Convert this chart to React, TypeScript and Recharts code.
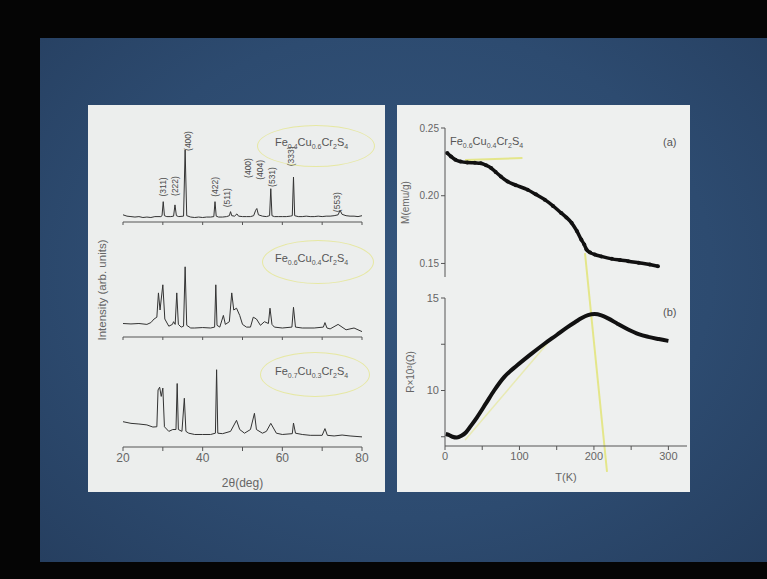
import React from "react";
import { ComposedChart, LineChart, Line, Scatter, XAxis, YAxis, ReferenceLine } from "recharts";

// XRD patterns, 2θ (deg) vs intensity (arb. units, 0-100 per panel)
const thetaA = [20, 21, 22, 23, 24, 25, 26, 27, 28, 29.5, 29.8, 30.1, 30.4, 31, 32, 32.7, 33.05, 33.4, 34, 35.2, 35.6, 36, 37, 38, 39, 40, 41, 42, 42.8, 43.1, 43.4, 44, 45, 46, 46.7, 47, 47.3, 48, 48.6, 49, 50, 51, 52, 52.8, 53.3, 53.6, 54, 55, 56, 56.8, 57.1, 57.4, 58, 59, 60, 61, 62, 62.5, 62.8, 63.1, 64, 65, 66, 67, 68, 69, 70, 71, 72, 73, 74, 74.5, 75, 76, 77, 78, 79, 80];
const intA = [8, 6.5, 6, 5.5, 6, 5, 5.5, 5, 6, 6, 7, 22.6, 7, 6, 6, 6.5, 19, 7, 6, 6.5, 80, 7, 5.5, 5, 5.5, 5, 5.5, 5.5, 6, 22.6, 6.5, 5.5, 5.5, 6, 7, 11.5, 7, 6.5, 9, 6.5, 6, 6, 6, 7, 13, 15, 8, 6.5, 6, 7, 37, 7, 6, 6, 6, 6, 6.5, 7, 50, 7, 6, 6, 6.5, 6, 6, 6.5, 6, 6.5, 6.5, 7, 8, 13, 8.5, 7, 6.5, 6.5, 6, 7];

const thetaB = [20, 22, 24, 26, 27, 27.8, 28.5, 28.9, 29.3, 30, 30.5, 31.5, 32.4, 32.7, 33.1, 33.5, 33.9, 34.6, 35.2, 35.6, 36, 37, 38, 40, 42, 43, 43.3, 43.6, 44.3, 45.2, 45.7, 46.7, 47.3, 47.8, 48.5, 49.3, 50, 51, 52, 52.7, 53.5, 54.5, 55.5, 56.5, 56.9, 57.4, 58, 60, 62.4, 62.8, 63.3, 65, 68, 70.3, 70.7, 71.2, 72, 74, 76, 78, 80];
const intB = [15, 14.5, 15, 14, 16, 20, 22, 49, 30, 58, 20, 12, 14, 17, 14, 49, 14, 11, 12, 78, 13, 10, 10, 10.5, 10, 11, 58, 13, 11, 24, 14, 17, 49, 30, 32, 24, 14, 11, 11, 22, 20, 13, 17, 15, 32, 14, 11, 10, 11, 33, 11, 10, 10, 11, 16, 10, 9, 14, 8, 10, 6];

const thetaC = [20, 22, 24, 26, 27.5, 28.5, 28.8, 29.2, 29.6, 30, 30.4, 31.5, 32.5, 33.3, 33.6, 33.9, 34.8, 35.4, 35.8, 36.5, 38, 40, 42, 43.2, 43.5, 43.8, 45, 47, 48.5, 49.3, 50.5, 52, 53, 53.5, 55, 56, 57.1, 58.5, 60, 62.5, 62.8, 63.3, 65, 67, 70, 70.7, 71.3, 73, 75, 77, 80];
const intC = [27.5, 25.7, 25, 24, 21.7, 22, 62, 65, 55, 64, 22, 17, 19, 19, 69, 19, 17, 53, 17, 15, 13.6, 13.6, 13.6, 15, 84, 15, 14.5, 17, 29, 19, 15, 19, 36.6, 19, 15, 17, 25.7, 15, 13.6, 14.5, 26, 15, 13.6, 12.7, 12.7, 20, 12.7, 12, 13, 12, 11];

const peakNames = ["(311)", "(222)", "(400)", "(422)", "(511)", "(400)", "(404)", "(531)", "(333)", "(553)"];
const peakTheta = [30.1, 33.05, 36.4, 43.1, 46, 51.5, 54.4, 57.3, 62.3, 73.8];
const peakLabelHeight = [39, 40, 90, 39, 27, 60, 58, 50, 73, 22];

// magnetisation (a) and resistance (b) vs temperature
const mTemp = [3, 8, 14, 21, 30, 40, 48, 55, 62, 68, 75, 84, 95, 111, 122, 134, 145, 156, 163, 170, 177, 183, 187, 190, 195, 201, 210, 224, 235, 246, 260, 275, 286];
const mValue = [0.2316, 0.229, 0.2265, 0.2252, 0.2245, 0.2243, 0.224, 0.2225, 0.2204, 0.2175, 0.2142, 0.2105, 0.2078, 0.2044, 0.201, 0.1971, 0.1925, 0.1873, 0.184, 0.18, 0.174, 0.1676, 0.164, 0.1603, 0.158, 0.1566, 0.1552, 0.1534, 0.1525, 0.1517, 0.1505, 0.1492, 0.148];

const rTemp = [1, 5, 10, 16, 22, 28, 35, 43, 55, 66, 80, 97, 115, 134, 150, 165, 175, 183, 192, 201, 210, 219, 232, 246, 260, 273, 287, 300];
const rValue = [7.65, 7.6, 7.5, 7.46, 7.55, 7.73, 8.1, 8.55, 9.3, 10.0, 10.75, 11.36, 11.95, 12.54, 13.0, 13.44, 13.7, 13.9, 14.07, 14.13, 14.06, 13.9, 13.6, 13.3, 13.05, 12.9, 12.78, 12.68];

const FONT = "'Liberation Sans', Arial, sans-serif";
const INK = "#4a4a4a";
const YELLOW = "#e4e68a";

const zip = (t: number[], v: number[]) => t.map((x, i) => ({ t: x, v: v[i] }));

function PeakLabel(props: any) {
  const { cx, cy, payload } = props;
  return (
    <text x={cx} y={cy} transform={`rotate(-90 ${cx} ${cy})`} textAnchor="middle" dominantBaseline="central"
      fontSize={8.5} fill={INK} fontFamily={FONT}>
      {payload.name}
    </text>
  );
}

function Formula({ fe, cu, left, top }: { fe: string; cu: string; left: number; top: number }) {
  const sub = { fontSize: 7 };
  return (
    <div style={{ position: "absolute", left, top, fontFamily: FONT, fontSize: 11, color: "#555", lineHeight: "12px" }}>
      Fe<sub style={sub}>{fe}</sub>Cu<sub style={sub}>{cu}</sub>Cr<sub style={sub}>2</sub>S<sub style={sub}>4</sub>
    </div>
  );
}

function Ellipse({ left, top, width, height }: { left: number; top: number; width: number; height: number }) {
  return (
    <div style={{ position: "absolute", left, top, width, height, borderRadius: "50%", border: `1.5px solid ${YELLOW}`, opacity: 0.75 }} />
  );
}

interface XrdProps {
  theta: number[];
  intensity: number[];
  top: number;
  height: number;
  mt: number;
  bottomAxis?: boolean;
  framed?: boolean;
  peaks?: boolean;
}

function XrdPanel({ theta, intensity, top, height, mt, bottomAxis, framed, peaks }: XrdProps) {
  const rows = zip(theta, intensity);
  const labels = peakNames.map((name, i) => ({ t: peakTheta[i], lab: peakLabelHeight[i], name }));
  return (
    <div style={{ position: "absolute", left: 88, top, width: 297, height }}>
      <ComposedChart width={297} height={height} data={rows} margin={{ top: mt, right: 23, bottom: 0, left: 35 }}>
        <XAxis dataKey="t" type="number" domain={[20, 80]} ticks={[20, 30, 40, 50, 60, 70, 80]}
          tickFormatter={(v: number) => (bottomAxis && v % 20 === 0 ? String(v) : "")}
          height={bottomAxis ? 48 : height - mt - 90} tickSize={bottomAxis ? 4 : 3} stroke="#555"
          tick={{ fontSize: 12, fill: "#666", fontFamily: FONT }}
          label={bottomAxis ? { value: "2θ(deg)", position: "insideBottom", offset: 8, fontSize: 12, fill: "#666", fontFamily: FONT } : undefined} />
        {framed && <XAxis xAxisId="top" orientation="top" type="number" domain={[20, 80]} height={0} tick={false} stroke="#555" />}
        <YAxis type="number" domain={[0, 100]} ticks={[0, 12.5, 25, 37.5, 50, 62.5, 75, 87.5, 100]} width={0} mirror
          tickFormatter={() => ""} tickSize={3} stroke="#555" />
        <YAxis yAxisId="r" orientation="right" type="number" domain={[0, 100]} width={0} tick={false} stroke="#555" />
        <Line dataKey="v" type="linear" stroke="#333" strokeWidth={1} dot={false} isAnimationActive={false} />
        {peaks && <Scatter data={labels} dataKey="lab" shape={PeakLabel} isAnimationActive={false} />}
      </ComposedChart>
    </div>
  );
}

export default function App() {
  const mRows = zip(mTemp, mValue);
  const rRows = zip(rTemp, rValue);
  const axisTick = { fontSize: 11, fill: "#666", fontFamily: FONT };
  return (
    <div style={{ position: "absolute", left: 0, top: 0, width: 767, height: 579, background: "#050505", overflow: "hidden" }}>
      <style>{`.recharts-surface{overflow:visible}`}</style>
      <div style={{ position: "absolute", left: 40, top: 38, width: 727, height: 524, background: "radial-gradient(ellipse at 50% 45%, #34557c 0%, #2d4b70 60%, #263f60 100%)" }} />
      <div style={{ position: "absolute", left: 88, top: 105, width: 297, height: 387, background: "#eceeed" }} />
      <div style={{ position: "absolute", left: 397, top: 105, width: 293, height: 387, background: "#eef0ef" }} />

      {/* left panel: XRD patterns */}
      <XrdPanel theta={thetaA} intensity={intA} top={120} height={112} mt={12} framed peaks />
      <XrdPanel theta={thetaB} intensity={intB} top={235} height={112} mt={12} />
      <XrdPanel theta={thetaC} intensity={intC} top={345} height={150} mt={10} bottomAxis />
      <div style={{ position: "absolute", left: 102, top: 290, transform: "translate(-50%, -50%) rotate(-90deg)", whiteSpace: "nowrap",
        fontFamily: FONT, fontSize: 11.5, color: "#666" }}>Intensity (arb. units)</div>
      <Ellipse left={257} top={125} width={116} height={40} />
      <Ellipse left={262} top={240} width={110} height={42} />
      <Ellipse left={260} top={352} width={108} height={43} />
      <Formula fe="0.4" cu="0.6" left={275} top={136} />
      <Formula fe="0.6" cu="0.4" left={275} top={252} />
      <Formula fe="0.7" cu="0.3" left={275} top={365} />

      {/* right panel (a): M vs T */}
      <div style={{ position: "absolute", left: 397, top: 115, width: 293, height: 165 }}>
        <LineChart width={293} height={165} data={mRows} margin={{ top: 13, right: 3, bottom: 3, left: 8 }}>
          <XAxis dataKey="t" type="number" domain={[0, 325]} hide />
          <XAxis xAxisId="top" orientation="top" type="number" domain={[0, 325]} height={0} tick={false} stroke="#555" />
          <YAxis type="number" domain={[0.14, 0.25]} ticks={[0.15, 0.2, 0.25]} width={40} tickSize={4} stroke="#555"
            tickFormatter={(v: number) => v.toFixed(2)} tick={{ ...axisTick, fontSize: 10 }}
            label={{ value: "M(emu/g)", angle: -90, position: "insideLeft", offset: 0, fontSize: 10, fill: "#666", fontFamily: FONT, style: { textAnchor: "middle" } }} />
          <YAxis yAxisId="r" orientation="right" type="number" domain={[0.14, 0.25]} width={0} tick={false} stroke="#555" />
          <ReferenceLine segment={[{ x: 27, y: 0.2264 }, { x: 104, y: 0.2278 }]} stroke={YELLOW} strokeWidth={2} ifOverflow="visible" />
          <Line dataKey="v" type="monotone" stroke="#111" strokeWidth={3.5} dot={{ r: 2, fill: "#111", stroke: "none" }} isAnimationActive={false} />
        </LineChart>
      </div>

      {/* right panel (b): R vs T */}
      <div style={{ position: "absolute", left: 397, top: 285, width: 293, height: 205 }}>
        <LineChart width={293} height={205} data={rRows} margin={{ top: 13, right: 3, bottom: 0, left: 8 }}>
          <XAxis dataKey="t" type="number" domain={[0, 325]} ticks={[0, 50, 100, 150, 200, 250, 300]} height={44} tickSize={4}
            tickFormatter={(v: number) => (v % 100 === 0 ? String(v) : "")} stroke="#555" tick={axisTick}
            label={{ value: "T(K)", position: "insideBottom", offset: 9, fontSize: 11, fill: "#666", fontFamily: FONT }} />
          <YAxis type="number" domain={[7, 15]} ticks={[7.5, 10, 12.5, 15]} width={40} tickSize={4} stroke="#555"
            tickFormatter={(v: number) => (v % 5 === 0 ? String(v) : "")} tick={axisTick}
            label={{ value: "R×10³(Ω)", angle: -90, position: "insideLeft", offset: 5, fontSize: 10, fill: "#666", fontFamily: FONT, style: { textAnchor: "middle" } }} />
          <YAxis yAxisId="r" orientation="right" type="number" domain={[7, 15]} width={0} tick={false} stroke="#555" />
          <ReferenceLine segment={[{ x: 27, y: 7.32 }, { x: 138, y: 12.57 }]} stroke={YELLOW} strokeWidth={1.5} strokeOpacity={0.6} ifOverflow="visible" />
          <ReferenceLine segment={[{ x: 188, y: 17.43 }, { x: 217.6, y: 5.6 }]} stroke={YELLOW} strokeWidth={2} ifOverflow="visible" />
          <Line dataKey="v" type="monotone" stroke="#111" strokeWidth={4} dot={false} isAnimationActive={false} />
        </LineChart>
      </div>

      <div style={{ position: "absolute", left: 663, top: 136, fontFamily: FONT, fontSize: 11, color: "#555" }}>(a)</div>
      <div style={{ position: "absolute", left: 663, top: 306, fontFamily: FONT, fontSize: 11, color: "#555" }}>(b)</div>
      <Formula fe="0.6" cu="0.4" left={450} top={135} />
    </div>
  );
}
